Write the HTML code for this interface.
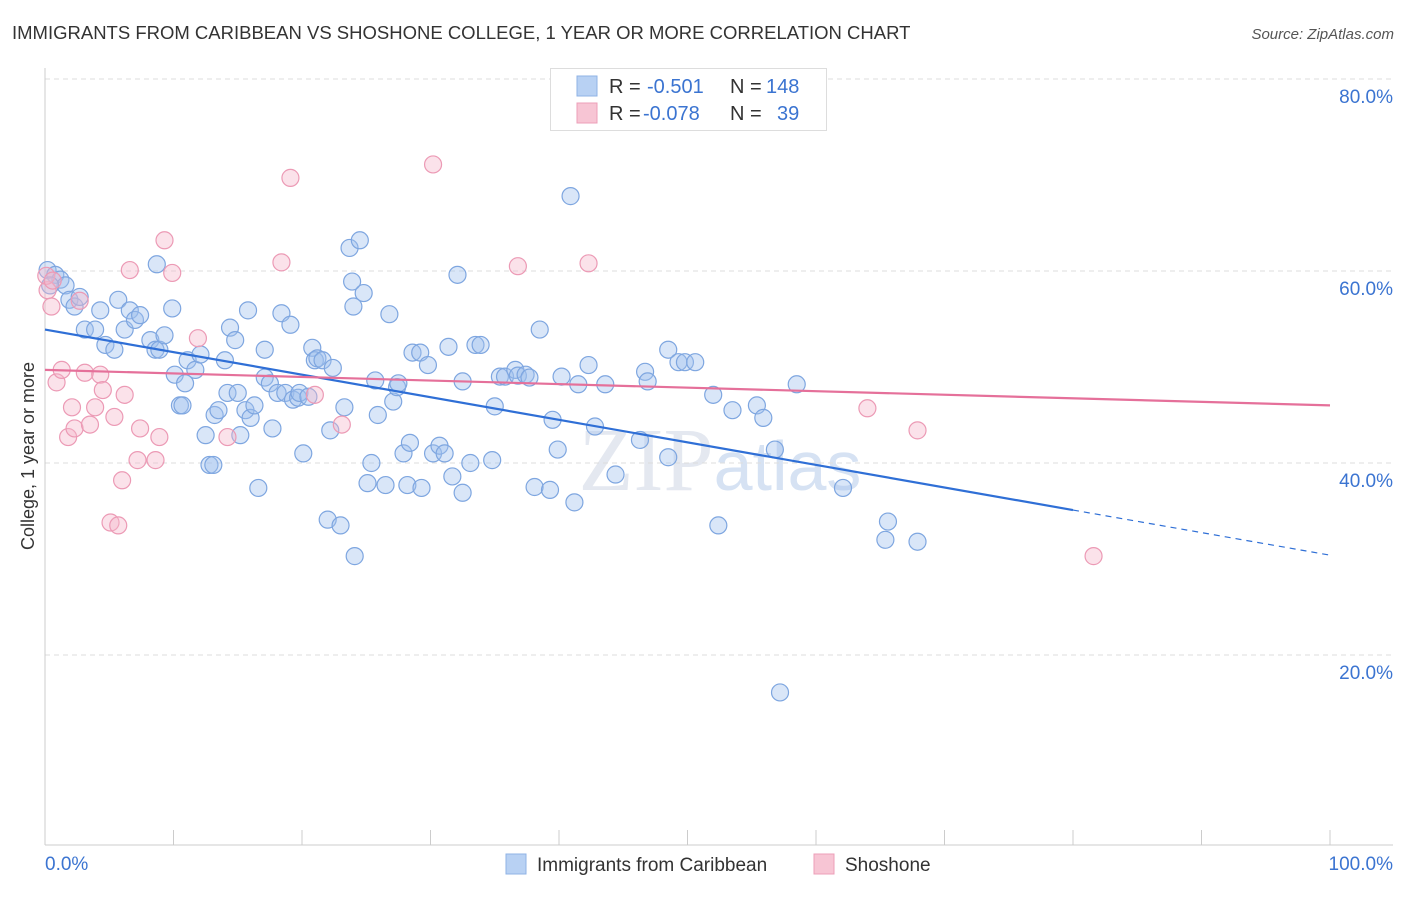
<!DOCTYPE html>
<html><head><meta charset="utf-8"><style>
body{margin:0;background:#fff;font-family:"Liberation Sans",sans-serif;}
</style></head><body>
<svg id="chart" width="1406" height="892" xmlns="http://www.w3.org/2000/svg">
<text x="12" y="39" font-size="18.5" fill="#333">IMMIGRANTS FROM CARIBBEAN VS SHOSHONE COLLEGE, 1 YEAR OR MORE CORRELATION CHART</text>
<text x="1394" y="39" font-size="15" fill="#555" font-style="italic" text-anchor="end">Source: ZipAtlas.com</text>
<text x="720" y="490" font-size="90" fill="#e4e8f0" text-anchor="middle" font-family="Liberation Serif,serif">ZIP<tspan fill="#d6e2f3" font-family="Liberation Sans,sans-serif" font-size="70">atlas</tspan></text>
<g id="grid"></g>
<g id="axes"></g>
<g id="points"></g>
<g id="trends"></g>
<text transform="translate(34,456) rotate(-90)" font-size="18" fill="#333" text-anchor="middle">College, 1 year or more</text>
<g>
<rect x="550.5" y="68.5" width="276" height="62" fill="#fff" stroke="#ddd"/>
<rect x="577" y="76" width="20" height="20" fill="#b8d1f3" stroke="#8fb3e6"/>
<rect x="577" y="103" width="20" height="20" fill="#f7c5d4" stroke="#ec9fb8"/>
<text x="609" y="93" font-size="20" fill="#333">R =</text>
<text x="647" y="93" font-size="20" fill="#3b74d1">-0.501</text>
<text x="730" y="93" font-size="20" fill="#333">N =</text>
<text x="766" y="93" font-size="20" fill="#3b74d1">148</text>
<text x="609" y="120" font-size="20" fill="#333">R =</text>
<text x="643" y="120" font-size="20" fill="#3b74d1">-0.078</text>
<text x="730" y="120" font-size="20" fill="#333">N =</text>
<text x="777" y="120" font-size="20" fill="#3b74d1">39</text>
</g>
<g>
<rect x="506" y="854" width="20" height="20" fill="#b8d1f3" stroke="#8fb3e6"/>
<text x="537" y="871" font-size="19" fill="#333">Immigrants from Caribbean</text>
<rect x="814" y="854" width="20" height="20" fill="#f7c5d4" stroke="#ec9fb8"/>
<text x="845" y="871" font-size="19" fill="#333">Shoshone</text>
</g>
</svg>
<script>
const yTicks=[20,40,60,80];
const yTickLabels=["20.0%","40.0%","60.0%","80.0%"];
const xTicks=[0,10,20,30,40,50,60,70,80,90,100];
const xEndLabels=["0.0%","100.0%"];
const blueX=[0.2,0.8,1.2,1.6,0.4,1.9,2.3,2.7,3.1,3.9,4.3,4.7,5.4,5.7,6.2,6.6,7.0,7.4,8.2,8.6,8.7,8.9,9.3,9.9,10.1,10.5,10.7,10.9,11.1,11.7,12.1,12.5,12.8,13.1,13.2,13.5,14.0,14.2,14.4,14.8,15.0,15.2,15.6,15.8,16.0,16.3,16.6,17.1,17.1,17.5,17.7,18.1,18.4,18.7,19.1,19.3,19.7,19.8,20.1,20.5,20.8,21.0,21.2,21.6,22.0,22.2,22.4,23.0,23.3,23.7,23.9,24.0,24.1,24.5,24.8,25.1,25.4,25.7,25.9,26.5,26.8,27.1,27.4,27.5,27.9,28.2,28.4,28.6,29.2,29.3,29.8,30.2,30.7,31.1,31.4,31.7,32.1,32.5,32.5,33.1,33.5,33.9,34.8,35.0,35.4,35.8,36.6,36.8,37.4,37.7,38.1,38.5,39.3,39.5,39.9,40.2,40.9,41.2,41.5,42.3,42.8,43.6,44.4,46.3,46.7,46.9,48.5,48.5,49.3,49.8,50.6,52.0,52.4,53.5,55.4,55.9,56.8,57.2,58.5,62.1,65.6,65.4,67.9];
const blueY=[60.1,59.6,59.1,58.5,58.5,57.0,56.3,57.3,53.9,53.9,55.9,52.3,51.8,57.0,53.9,55.9,54.9,55.4,52.8,51.8,60.7,51.8,53.3,56.1,49.2,46.0,46.0,48.3,50.7,49.7,51.3,42.9,39.8,39.8,45.0,45.5,50.7,47.3,54.1,52.8,47.3,42.9,45.5,55.9,44.7,46.0,37.4,51.8,48.9,48.3,43.6,47.3,55.6,47.3,54.4,46.6,46.8,47.3,41.0,46.9,52.0,50.7,50.9,50.7,34.1,43.4,49.9,33.5,45.8,62.4,58.9,56.3,30.3,63.2,57.7,37.9,40.0,48.6,45.0,37.7,55.5,46.4,47.9,48.3,41.0,37.7,42.1,51.5,51.5,37.4,50.2,41.0,41.8,41.0,52.1,38.6,59.6,36.9,48.5,40.0,52.3,52.3,40.3,45.9,49.0,49.0,49.7,49.1,49.2,48.9,37.5,53.9,37.2,44.5,41.4,49.0,67.8,35.9,48.2,50.2,43.8,48.2,38.8,42.4,49.5,48.5,40.6,51.8,50.5,50.5,50.5,47.1,33.5,45.5,46.0,44.7,41.4,16.1,48.2,37.4,33.9,32.0,31.8];
const pinkX=[0.2,0.5,0.9,1.3,1.8,2.1,2.3,2.7,3.1,3.5,3.9,4.3,4.5,5.1,5.4,5.7,6.0,6.2,6.6,7.2,7.4,8.6,8.9,9.3,9.9,11.9,14.2,18.4,19.1,21.0,23.1,30.2,36.8,42.3,64.0,67.9,81.6,0.1,0.6];
const pinkY=[58.0,56.3,48.4,49.7,42.7,45.8,43.6,56.9,49.4,44.0,45.8,49.2,47.6,33.8,44.8,33.5,38.2,47.1,60.1,40.3,43.6,40.3,42.7,63.2,59.8,53.0,42.7,60.9,69.7,47.1,44.0,71.1,60.5,60.8,45.7,43.4,30.3,59.5,59.0];
const blueTrend=[53.9,30.4];
const pinkTrend=[49.7,46.0];
const NS="http://www.w3.org/2000/svg";
const X0=45,X1=1330,Y0=847,YS=9.6;
function sx(v){return X0+(X1-X0)*v/100;}
function sy(v){return Y0-v*YS;}
function mk(tag,attrs,parent){const e=document.createElementNS(NS,tag);for(const k in attrs)e.setAttribute(k,attrs[k]);document.getElementById(parent).appendChild(e);return e;}
yTicks.forEach((t,i)=>{
 const l=mk('line',{x1:45,x2:1393,y1:sy(t),y2:sy(t),stroke:'#ddd','stroke-dasharray':'5,4'},'grid');
 
 
 const tx=mk('text',{x:1393,y:sy(t)+24,'font-size':19,fill:'#3b74d1','text-anchor':'end'},'grid');
 tx.textContent=yTickLabels[i];
 
 
});
const ax=mk('line',{x1:45,x2:45,y1:68,y2:845,stroke:'#ccc'},'axes');


const bx=mk('line',{x1:45,x2:1393,y1:845,y2:845,stroke:'#ccc'},'axes');


xTicks.forEach(t=>{
 const l=mk('line',{x1:sx(t),x2:sx(t),y1:830,y2:845,stroke:'#ccc'},'axes');
 
 
});
[[0,'start',45],[100,'end',1393]].forEach((d,i)=>{
 const tx=mk('text',{x:d[2],y:870,'font-size':19,fill:'#3b74d1','text-anchor':d[1]},'axes');
 tx.textContent=xEndLabels[i];
 
 
});
blueX.forEach((x,i)=>{
 const c=mk('circle',{cx:sx(x),cy:sy(blueY[i]),r:8.5,fill:'rgba(160,192,238,0.4)',stroke:'#7ea6e0','stroke-width':1.2},'points');
 
 
});
pinkX.forEach((x,i)=>{
 const c=mk('circle',{cx:sx(x),cy:sy(pinkY[i]),r:8.5,fill:'rgba(244,182,202,0.4)',stroke:'#ec9ab5','stroke-width':1.2},'points');
 
 
});
const bAt=x=>blueTrend[0]+(blueTrend[1]-blueTrend[0])*x/100;
const t1=mk('line',{x1:sx(0),y1:sy(bAt(0)),x2:sx(80),y2:sy(bAt(80)),stroke:'#2f6fd6','stroke-width':2.2},'trends');


const t2=mk('line',{x1:sx(80),y1:sy(bAt(80)),x2:sx(100),y2:sy(bAt(100)),stroke:'#2f6fd6','stroke-width':1.2,'stroke-dasharray':'6,5'},'trends');


const t3=mk('line',{x1:sx(0),y1:sy(pinkTrend[0]),x2:sx(100),y2:sy(pinkTrend[1]),stroke:'#e5709a','stroke-width':2.2},'trends');


</script>
</body></html>
